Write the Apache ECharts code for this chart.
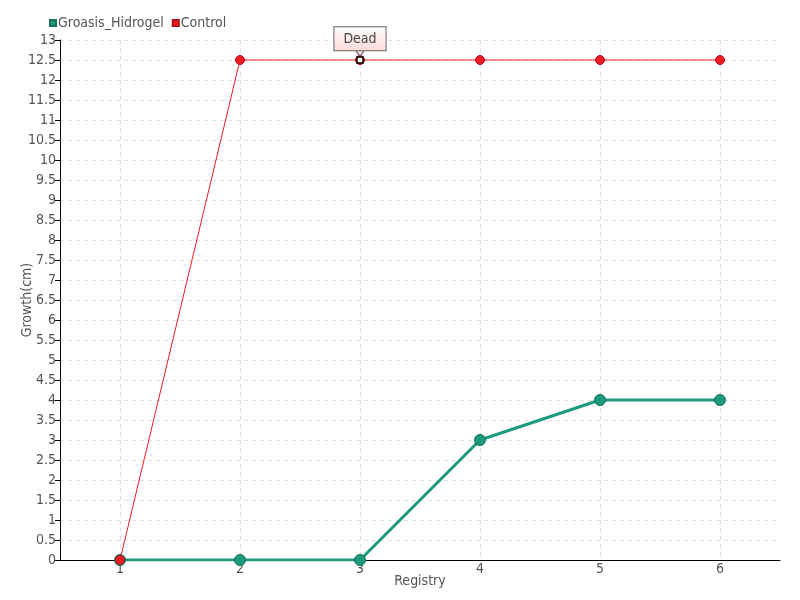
<!DOCTYPE html>
<html>
<head>
<meta charset="utf-8">
<script src="https://cdn.jsdelivr.net/npm/echarts@6/dist/echarts.min.js"></script>
<style>html,body{margin:0;padding:0;background:#fff}#c{width:800px;height:600px}</style>
</head>
<body>
<div id="c"></div>
<script>
const categories = ['1', '2', '3', '4', '5', '6'];
const groasis = [0, 0, 0, 3, 4, 4];
const control = [0, 12.5, 12.5, 12.5, 12.5, 12.5];
const annotation = { index: 2, text: 'Dead' };

const FONT = "'DejaVu Sans Condensed', 'DejaVu Sans', sans-serif";
const chart = echarts.init(document.getElementById('c'));
chart.setOption({
  animation: false,
  backgroundColor: '#fff',
  textStyle: { fontFamily: FONT },
  legend: {
    left: 44, top: 11,
    icon: 'rect', itemWidth: 6, itemHeight: 6, itemGap: 8,
    textStyle: { fontSize: 14, color: '#555', fontFamily: FONT, padding: [0, 0, 0, -3] },
    data: ['Groasis_Hidrogel', 'Control']
  },
  grid: { left: 60, right: 20, top: 40, bottom: 40, containLabel: false, outerBoundsMode: 'none' },
  xAxis: {
    type: 'category',
    data: categories,
    boundaryGap: true,
    name: 'Registry',
    nameLocation: 'middle',
    nameGap: 14,
    nameMoveOverlap: false,
    nameTextStyle: { fontSize: 14, color: '#555', fontFamily: FONT },
    axisLine: { lineStyle: { color: '#000', width: 1 } },
    axisTick: { show: false, alignWithLabel: true },
    axisLabel: { fontSize: 14, color: '#555', margin: 2, fontFamily: FONT },
    splitLine: { show: true, alignWithLabel: true, lineStyle: { color: '#e0e0e0', type: [4, 4] } }
  },
  yAxis: {
    type: 'value',
    min: 0, max: 13, interval: 0.5,
    name: 'Growth(cm)',
    nameLocation: 'middle',
    nameGap: 26,
    nameMoveOverlap: false,
    nameTextStyle: { fontSize: 14, color: '#555', fontFamily: FONT },
    axisLine: { show: true, lineStyle: { color: '#000', width: 1 } },
    axisTick: { show: true, length: 5, lineStyle: { color: '#000' } },
    axisLabel: { fontSize: 14, color: '#555', margin: 4, fontFamily: FONT },
    splitLine: { show: true, lineStyle: { color: '#e0e0e0', type: [4, 4] } }
  },
  series: [
    {
      name: 'Groasis_Hidrogel',
      type: 'line',
      data: groasis,
      color: '#1b9a7c',
      symbol: 'circle',
      symbolSize: 11,
      lineStyle: { width: 3, color: '#1b9a7c' },
      itemStyle: { color: '#1b9a7c', borderColor: '#17715c', borderWidth: 1 },
      z: 2
    },
    {
      name: 'Control',
      type: 'line',
      data: control,
      color: '#ee1c25',
      symbol: 'circle',
      symbolSize: 9,
      lineStyle: { width: 1, color: '#ee1c25' },
      itemStyle: { color: '#ee1c25', borderColor: '#b01018', borderWidth: 1 },
      z: 3,
      markPoint: {
        silent: true,
        data: [
          {
            coord: [categories[annotation.index], control[annotation.index]],
            symbol: 'triangle', symbolSize: [10, 6], symbolRotate: 180,
            symbolOffset: [0, -7],
            itemStyle: { color: '#fde0e0', borderColor: '#666', borderWidth: 1 },
            label: { show: false }
          },
          {
            coord: [categories[annotation.index], control[annotation.index]],
            symbol: 'rect', symbolSize: 6,
            itemStyle: { color: '#fff', borderColor: '#000', borderWidth: 1.5 },
            label: {
              show: true, position: 'top', distance: 6,
              formatter: annotation.text,
              fontSize: 14, color: '#444', fontFamily: FONT,
              padding: [5, 9, 4, 9],
              borderColor: '#666', borderWidth: 1,
              backgroundColor: {
                type: 'linear', x: 0, y: 0, x2: 0, y2: 1,
                colorStops: [{ offset: 0, color: '#ffffff' }, { offset: 1, color: '#fdd8d8' }]
              }
            }
          }
        ]
      }
    }
  ]
});
</script>
</body>
</html>
